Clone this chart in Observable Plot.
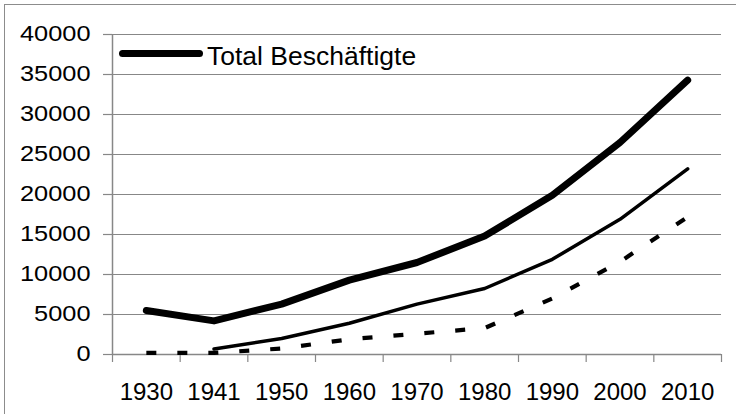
<!DOCTYPE html>
<html>
<head>
<meta charset="utf-8">
<script src="https://cdn.jsdelivr.net/npm/d3@7"></script>
<script src="https://cdn.jsdelivr.net/npm/@observablehq/plot@0.6"></script>
<style>
  body { margin: 0; background: #fff; }
  #wrap { position: relative; width: 736px; height: 414px; overflow: hidden; font-family: "Liberation Sans", Arial, sans-serif; }
  #frame { position: absolute; left: 4px; top: 4px; width: 800px; height: 500px; border-top: 1.5px solid #8c8c8c; border-left: 1.5px solid #8c8c8c; box-sizing: border-box; }
  #chart { position: absolute; left: 0; top: 0; }
  #legend-line { position: absolute; left: 119px; top: 50px; width: 84px; height: 7px; border-radius: 3.5px; background: #000; }
  #legend-text { position: absolute; left: 207px; top: 42.5px; font-size: 26.5px; line-height: 26.5px; color: #000; white-space: nowrap; }
</style>
</head>
<body>
<div id="wrap">
  <div id="frame"></div>
  <div id="chart"></div>
  <div id="legend-line"></div>
  <div id="legend-text">Total Beschäftigte</div>
</div>
<script>
const years = ["1930", "1941", "1950", "1960", "1970", "1980", "1990", "2000", "2010"];
const totalBeschaeftigte = [5500, 4200, 6300, 9300, 11500, 14800, 19900, 26500, 34300];
const serieB = [null, 700, 2000, 3900, 6300, 8250, 11900, 16900, 23200];
const serieC = [200, 200, 750, 1900, 2600, 3300, 7000, 11600, 17200];
const yTicks = [0, 5000, 10000, 15000, 20000, 25000, 30000, 35000, 40000];

const idx = years.map((d, i) => i);
const bounds = d3.range(years.length + 1).map(i => i - 0.5);
const gray = "#878787";

const chart = Plot.plot({
  width: 736,
  height: 414,
  marginLeft: 112,
  marginRight: 15,
  marginTop: 34,
  marginBottom: 60,
  style: { fontFamily: "'Liberation Sans', Arial, sans-serif", background: "transparent", color: "#000", overflow: "visible" },
  x: { type: "linear", domain: [-0.5, years.length - 0.5] },
  y: { domain: [0, 40000] },
  marks: [
    Plot.gridY(yTicks, { stroke: gray, strokeOpacity: 1, strokeWidth: 1.2 }),
    Plot.axisY(yTicks, { tickSize: 9, tickPadding: 13, fontSize: 21.5, stroke: gray, strokeOpacity: 1, strokeWidth: 1.2, fill: "#000", tickFormat: d => String(d) }),
    Plot.ruleX([-0.5], { stroke: gray, strokeWidth: 1.5 }),
    Plot.ruleY([0], { stroke: gray, strokeWidth: 1.5 }),
    Plot.axisX(bounds, { tickSize: 8, stroke: gray, strokeOpacity: 1, strokeWidth: 1.2, fill: "none" }),
    Plot.text(idx, { x: d => d, text: i => years[i], frameAnchor: "bottom", lineAnchor: "top", dy: 28, fontSize: 24, fill: "#000", ariaLabel: "x-labels" }),
    Plot.lineY(serieC, { stroke: "#000", strokeWidth: 4.2, strokeDasharray: "10,21", strokeLinecap: "butt" }),
    Plot.lineY(serieB, { stroke: "#000", strokeWidth: 3.5, strokeLinecap: "round", strokeLinejoin: "round" }),
    Plot.lineY(totalBeschaeftigte, { stroke: "#000", strokeWidth: 7, strokeLinecap: "round", strokeLinejoin: "round" })
  ]
});
document.getElementById("chart").appendChild(chart);

// Reference tick labels are horizontally stretched
function stretch(label, sx) {
  chart.querySelectorAll(`g[aria-label="${label}"] text`).forEach(t => {
    const tr = t.getAttribute("transform") || "";
    t.setAttribute("transform", tr + ` scale(${sx},1)`);
  });
}
stretch("y-axis tick label", 1.18);
stretch("x-labels", 1.07);
</script>
</body>
</html>
